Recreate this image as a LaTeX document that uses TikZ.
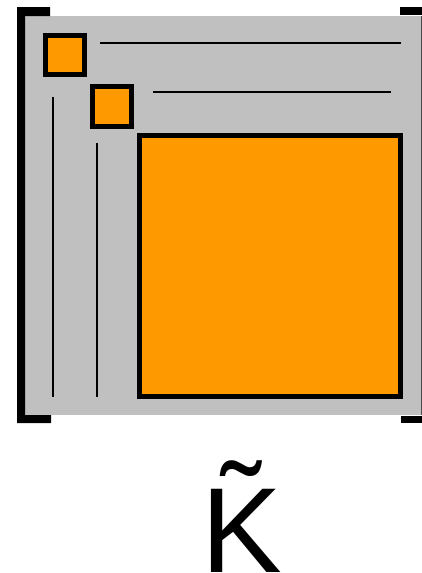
\documentclass[tikz,border=0pt]{standalone}
\usepackage{fontspec}
\setmainfont{Liberation Sans}
\definecolor{panelgray}{RGB}{192,192,192}
\definecolor{blockorange}{RGB}{255,153,0}
\begin{document}
\begin{tikzpicture}[x=1pt,y=-1pt,
  block/.style={fill=blockorange,draw=black,line width=5pt},
  rule/.style={draw=black,line width=2pt},
  bracket/.style={fill=black}]
\useasboundingbox (0,0) rectangle (422,573);
% panel
\fill[panelgray] (25,16) rectangle (421,415);
\draw[gray!60!black,line width=1pt] (421.5,16) -- (421.5,415);
% brackets
\fill[bracket] (17,7) -- (50,7) -- (50,16) -- (25,16) -- (25,415) -- (51,415) -- (51,423) -- (17,423) -- cycle;
\fill[bracket] (400,7) rectangle (422,15);
\fill[bracket] (401,416) rectangle (422,423);
% blocks
\draw[block] (45.5,35.5) rectangle (84.5,74.5);
\draw[block] (92.5,86.5) rectangle (131.5,126.5);
\draw[block] (139.5,135.5) rectangle (400.5,396.5);
% rules
\coordinate (h1a) at (100,43); \coordinate (h1b) at (401,43);
\coordinate (h2a) at (153,92); \coordinate (h2b) at (391,92);
\coordinate (v1a) at (53,97);  \coordinate (v1b) at (53,397);
\coordinate (v2a) at (97,143); \coordinate (v2b) at (97,397);
\draw[rule] (h1a) -- (h1b);
\draw[rule] (h2a) -- (h2b);
\draw[rule] (v1a) -- (v1b);
\draw[rule] (v2a) -- (v2b);
% label
\node[anchor=base,inner sep=0,font=\fontsize{121}{130}\selectfont] (k) at (242,572)
  {\ooalign{K\cr\hidewidth\raisebox{25pt}{˜}\hidewidth\cr}};
\end{tikzpicture}
\end{document}
